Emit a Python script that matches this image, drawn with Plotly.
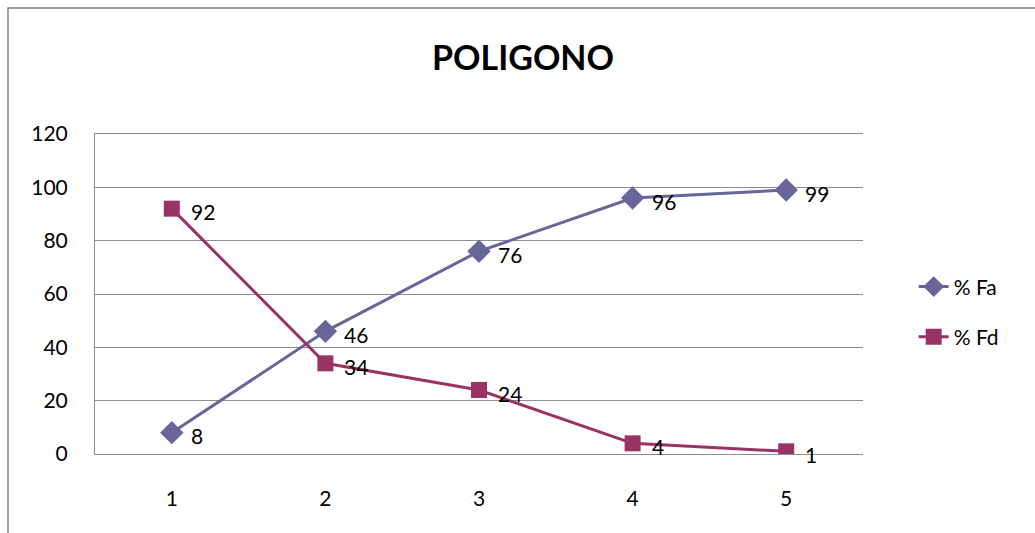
import plotly.graph_objects as go

categories = [1, 2, 3, 4, 5]
fa_values = [8, 46, 76, 96, 99]
fd_values = [92, 34, 24, 4, 1]
series_names = ["% Fa", "% Fd"]
title_text = "POLIGONO"
y_ticks = [0, 20, 40, 60, 80, 100, 120]

FONT = "Lato, 'Open Sans', sans-serif"
C_FA = "#666699"
C_FD = "#993366"

fig = go.Figure()
fig.add_trace(go.Scatter(
    x=categories, y=fa_values, name=series_names[0], mode="lines+markers",
    line=dict(color=C_FA, width=3),
    marker=dict(symbol="diamond", size=18, color=C_FA),
    legendgroup="a",
))
fig.add_trace(go.Scatter(
    x=categories, y=fd_values, name=series_names[1], mode="lines+markers",
    line=dict(color=C_FD, width=3),
    marker=dict(symbol="square", size=16, color=C_FD),
    legendgroup="b",
))

annotations = []
for series in (fa_values, fd_values):
    for c, v in zip(categories, series):
        annotations.append(dict(
            x=c, y=v, xref="x", yref="y", text=str(v), showarrow=False,
            xanchor="left", yanchor="middle", xshift=17, yshift=-3,
            font=dict(family=FONT, size=21, color="black"),
        ))

fig.update_layout(
    width=1035, height=533,
    margin=dict(l=95, r=172, t=134, b=79),
    paper_bgcolor="white", plot_bgcolor="white",
    font=dict(family=FONT, size=21, color="black"),
    title=dict(text="<b>" + title_text + "</b>", x=523 / 1035, xanchor="center",
               xref="container",
               y=1 - 58 / 533, yanchor="middle", yref="container",
               font=dict(family=FONT, size=34, color="black")),
    showlegend=True,
    legend=dict(x=1.066, y=0.444, xanchor="left", yanchor="middle",
                traceorder="grouped", tracegroupgap=20,
                font=dict(family=FONT, size=21, color="black"),
                bgcolor="rgba(0,0,0,0)"),
    xaxis=dict(range=[0.5, 5.5], tickvals=categories, ticktext=[str(c) for c in categories],
               showgrid=False, zeroline=False, showline=True, mirror=True,
               linecolor="#8c8c8c", linewidth=1, ticks="",
               ticklabelstandoff=26, tickfont=dict(family=FONT, size=21)),
    yaxis=dict(range=[0, 120], tickvals=y_ticks, showgrid=True, gridcolor="#8c8c8c",
               gridwidth=1, zeroline=False, showline=True, linecolor="#8c8c8c",
               linewidth=1, ticks="", ticklabelstandoff=22,
               tickfont=dict(family=FONT, size=21)),
    annotations=annotations,
    shapes=[dict(type="rect", xref="paper", yref="paper",
                 x0=(8 - 95) / 768, x1=1.4, y0=-0.4, y1=(454 - 8) / 320,
                 line=dict(color="#808080", width=1.5), layer="below")],
)

fig.write_html("out.html")
